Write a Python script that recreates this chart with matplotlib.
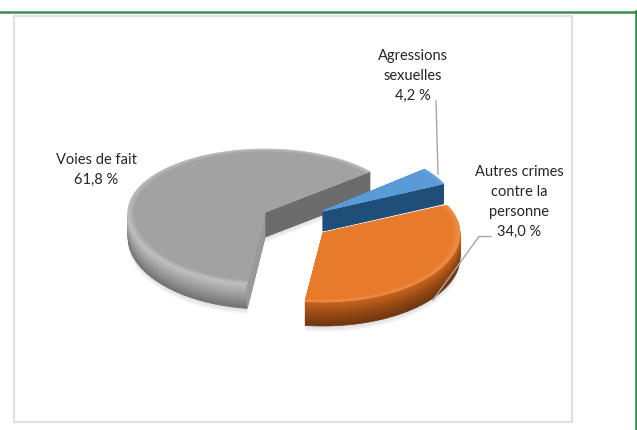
#!/usr/bin/env python3
import numpy as np
import matplotlib
matplotlib.use('Agg')
import matplotlib.pyplot as plt
from matplotlib.colors import to_rgb
from matplotlib.patches import Polygon, Rectangle

# data
categories = ['Voies de fait', 'Autres crimes\ncontre la\npersonne', 'Agressions\nsexuelles']
shares = [61.8, 34.0, 4.2]
value_labels = ['61,8 %', '34,0 %', '4,2 %']

# layout, in pixels. ry is the back half, ry2 the front half (fake perspective)
start_angle = 40
slice_geom = [
	{'c': (265, 212), 'rx': 137, 'ry': 63, 'ry2': 72, 'depth': 25},
	{'c': (323, 233), 'rx': 137, 'ry': 66, 'ry2': 69, 'depth': 24},
	{'c': (323, 211), 'rx': 133, 'ry': 65, 'ry2': 65, 'depth': 20},
]
top_col = ['#a2a2a2', '#e87a2b', '#5a9ad6']
rim_col = ['#bdbdbd', '#ee8f4a', '#6aa6dd']
side_col = [
	['#c2c2c2', '#9d9d9d', '#727272'],
	['#c9661f', '#984a14', '#6f3711'],
	['#235583', '#1f4e79', '#1b456c'],
]
radial_col = [['#6c6c6c', '#9a9a9a'], [None, None], ['#1f4e79', '#1f4e79']]
draw_order = [0, 2, 1]
label_pos = [(96, 170), (519, 202), (413, 76)]


def mix(cols, t):
	cols = [np.array(to_rgb(c)) for c in cols]
	t = t * (len(cols) - 1)
	i = min(int(t), len(cols) - 2)
	return tuple(cols[i] + (cols[i + 1] - cols[i]) * (t - i))


def arc_xy(g, ang, dy=0):
	ang = np.radians(ang)
	s = np.sin(ang)
	ry = np.where(s >= 0, g['ry'], g['ry2'])
	return g['c'][0] + g['rx'] * np.cos(ang), g['c'][1] - ry * s + dy


def wedge(g, a0, a1, dy=0, scale=1.0):
	ang = np.linspace(a0, a1, 120)
	x, y = arc_xy(g, ang, dy)
	cx, cy = g['c']
	cy = cy + dy
	x = cx + (x - cx) * scale
	y = cy + (y - cy) * scale
	return np.vstack([[cx, cy], np.column_stack([x, y])])


def fill(ax, pts, col, alpha=None):
	ax.add_patch(Polygon(pts, closed=True, fc=col, ec=col if alpha is None else 'none', lw=0.5, alpha=alpha))


fig = plt.figure(figsize=(6.37, 4.30), dpi=100)
ax = fig.add_axes([0, 0, 1, 1])
ax.set_xlim(0, 637)
ax.set_ylim(430, 0)
ax.axis('off')

# frame
ax.plot([0, 637], [11.5, 11.5], color='#3f8a4c', lw=1.8)
ax.plot([636, 636], [11, 430], color='#2f8a45', lw=1.8)
ax.add_patch(Rectangle((14, 15.5), 558, 406, fc='white', ec='#e0e0e0', lw=1.6))

# angles come from the shares
angles = np.array(shares) / 100 * 360
edges = start_angle + np.concatenate([[0], np.cumsum(angles)])

for i in draw_order:
	g = slice_geom[i]
	a0, a1 = edges[i], edges[i + 1]
	d = g['depth']

	# soft shadow
	for k in range(1, 6):
		fill(ax, wedge(g, a0, a1, d + k * 1.2), '#808080', alpha=0.05)

	# side, bottom layer first
	for k in range(d, 0, -1):
		fill(ax, wedge(g, a0, a1, k), mix(side_col[i], k / d))

	# flat cut faces
	for ang, col in zip([a0, a1], radial_col[i]):
		if col is None:
			continue
		px, py = arc_xy(g, ang)
		cx, cy = g['c']
		fill(ax, [(cx, cy), (px, py), (px, py + d), (cx, cy + d)], col)

	# top with a small bevel
	for s in np.linspace(1.0, 0.95, 6):
		t = (1.0 - s) / 0.05
		fill(ax, wedge(g, a0, a1, 0, s), mix([rim_col[i], top_col[i]], t))

# leader lines
ax.plot([436, 438], [101, 174], color='#a6a6a6', lw=1)
ax.plot([491, 479, 433], [236.5, 236.5, 300], color='#a6a6a6', lw=1)

# labels
for name, val, (x, y) in zip(categories, value_labels, label_pos):
	ax.text(x, y, name + '\n' + val, ha='center', va='center', fontsize=10.5,
		family='Lato', color='#262626', linespacing=1.56)

fig.savefig('out.png', dpi=100)
